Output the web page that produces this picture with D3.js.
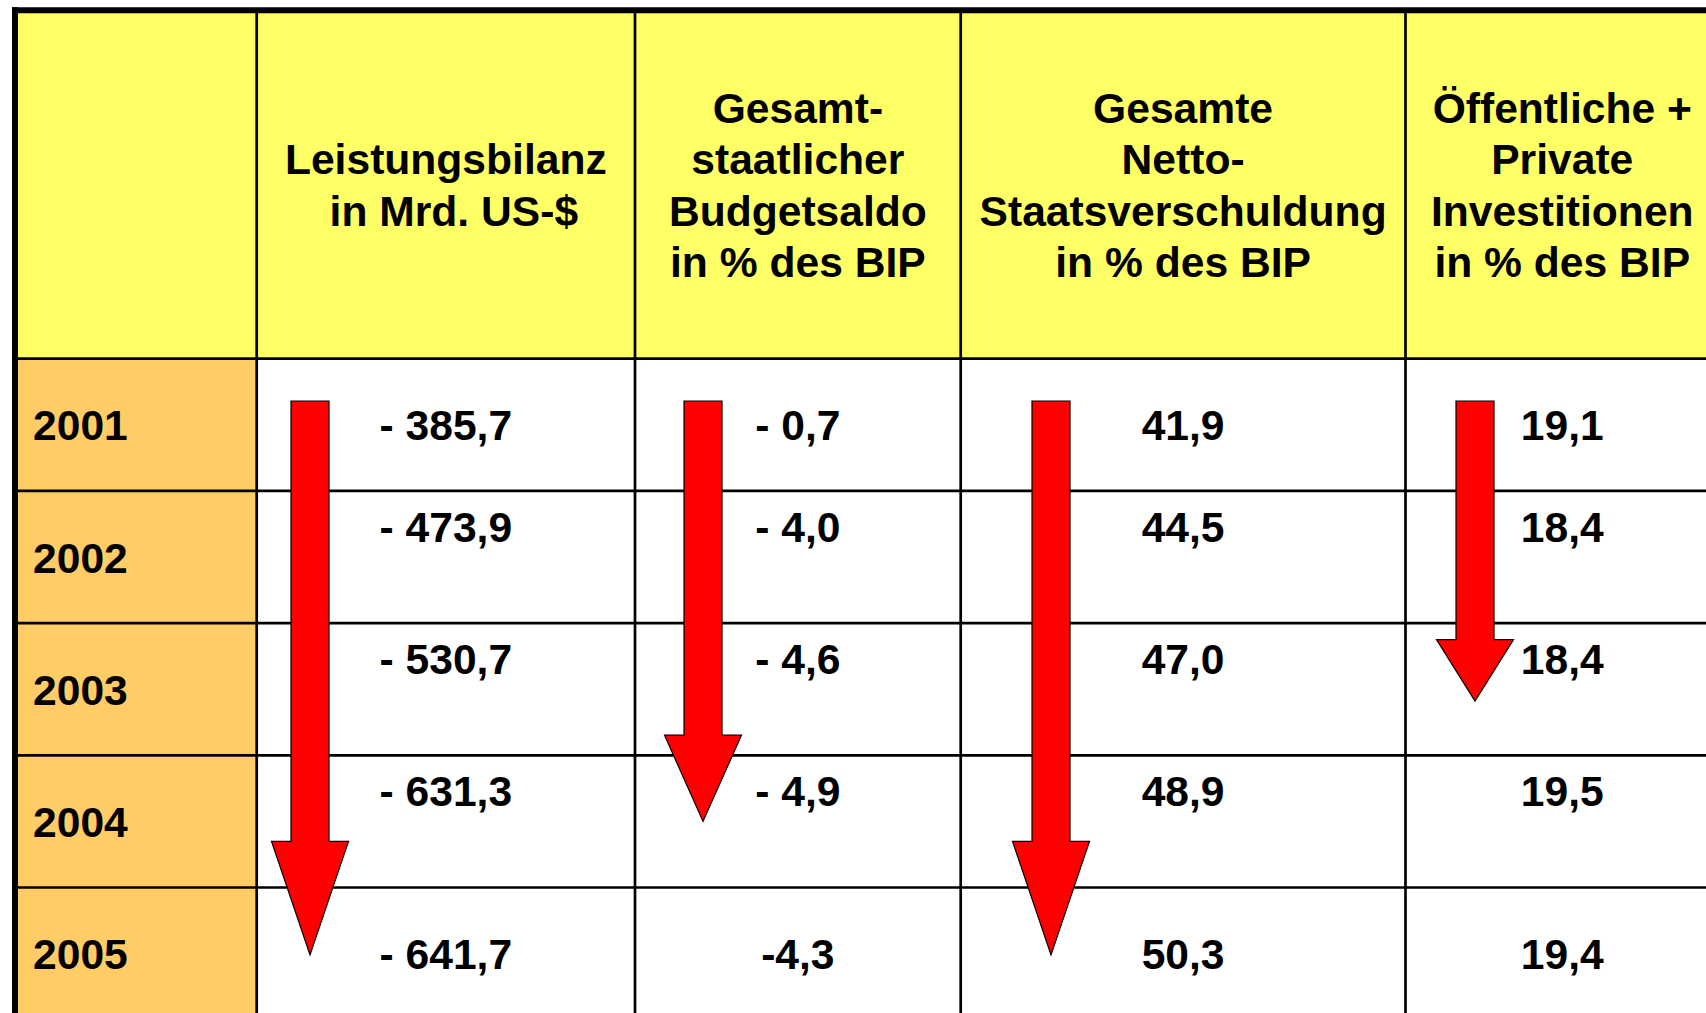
<!DOCTYPE html>
<html>
<head>
<meta charset="utf-8">
<script src="https://cdn.jsdelivr.net/npm/d3@7"></script>
<style>
  html, body { margin: 0; padding: 0; background: #ffffff; overflow: hidden; }
  svg { display: block; }
  text { font-family: "Liberation Sans", Arial, sans-serif; font-weight: bold; fill: #000; }
</style>
</head>
<body>
<svg id="chart" width="1706" height="1013"></svg>
<script>
// ---------- DATA ----------
const years = ["2001", "2002", "2003", "2004", "2005"];

const headerLeistungsbilanz = ["Leistungsbilanz", "in Mrd. US-$"];
const headerBudgetsaldo = ["Gesamt-", "staatlicher", "Budgetsaldo", "in % des BIP"];
const headerVerschuldung = ["Gesamte", "Netto-", "Staatsverschuldung", "in % des BIP"];
const headerInvestitionen = ["Öffentliche +", "Private", "Investitionen", "in % des BIP"];

const leistungsbilanz = ["- 385,7", "- 473,9", "- 530,7", "- 631,3", "- 641,7"];
const budgetsaldo = ["- 0,7", "- 4,0", "- 4,6", "- 4,9", "-4,3"];
const verschuldung = ["41,9", "44,5", "47,0", "48,9", "50,3"];
const investitionen = ["19,1", "18,4", "18,4", "19,5", "19,4"];

// trend arrows: which data column, start and end (in row units from top of first data row)
const arrowColumn = [1, 2, 3, 4];
const arrowStart = [0.32, 0.32, 0.32, 0.32];
const arrowEnd = [4.51, 3.50, 4.51, 2.59];

// ---------- LAYOUT ----------
const W = 1706, H = 1013;
const colEdges = [15, 256.7, 635, 960.7, 1405.5, 1719];
const tableTop = 10.3;
const headerBottom = 358.7;
const rowH = 132.2;
const fontSize = 42.6;
const lineStep = 51.5;
const capHalf = 15.5;
const arrowOffset = [53.3, 68, 90.3, 69.5]; // shaft centre from column left edge
const shaftW = 38, headW = 77, headRatio = 0.205;

const headers = [[], headerLeistungsbilanz, headerBudgetsaldo, headerVerschuldung, headerInvestitionen];
const columns = [leistungsbilanz, budgetsaldo, verschuldung, investitionen];

const svg = d3.select("#chart");
svg.append("rect").attr("width", W).attr("height", H).attr("fill", "#ffffff");

// scales
const y = d3.scaleLinear().domain([0, years.length]).range([headerBottom, headerBottom + years.length * rowH]);
const xL = i => colEdges[i];
const xC = i => (colEdges[i] + colEdges[i + 1]) / 2;

// backgrounds
svg.append("rect")
  .attr("x", colEdges[0]).attr("y", tableTop)
  .attr("width", colEdges[colEdges.length - 1] - colEdges[0])
  .attr("height", headerBottom - tableTop)
  .attr("fill", "#FFFF66");
svg.selectAll("rect.year").data(years).join("rect")
  .attr("class", "year")
  .attr("x", colEdges[0]).attr("y", (d, i) => y(i))
  .attr("width", colEdges[1] - colEdges[0]).attr("height", rowH)
  .attr("fill", "#FFCC66");

// grid lines
const grid = svg.append("g").attr("stroke", "#000").attr("stroke-width", 2.7);
grid.selectAll("line.h").data(d3.range(years.length)).join("line")
  .attr("x1", colEdges[0]).attr("x2", W)
  .attr("y1", i => y(i)).attr("y2", i => y(i));
grid.selectAll("line.v").data(colEdges.slice(1, -1)).join("line")
  .attr("x1", d => d).attr("x2", d => d)
  .attr("y1", tableTop).attr("y2", H);

// header text
headers.forEach((lines, c) => {
  const mid = (tableTop + headerBottom) / 2;
  const n = lines.length;
  svg.append("g").selectAll("text").data(lines).join("text")
    .attr("x", xC(c))
    .attr("dx", (d, k) => (c === 1 && k === 1) ? 8 : 0)
    .attr("y", (d, k) => mid + (k - (n - 1) / 2) * lineStep + capHalf)
    .attr("text-anchor", "middle")
    .attr("font-size", fontSize)
    .text(d => d);
});

// year labels
svg.append("g").selectAll("text").data(years).join("text")
  .attr("x", 33)
  .attr("y", (d, i) => y(i + 0.5) + capHalf)
  .attr("font-size", fontSize)
  .text(d => d);

// values: first and last row vertically centred, middle rows near top of cell
const valueY = i => (i > 0 && i < years.length - 1) ? y(i) + 51 : y(i + 0.5) + capHalf;
columns.forEach((vals, c) => {
  svg.append("g").selectAll("text").data(vals).join("text")
    .attr("x", xC(c + 1))
    .attr("y", (d, i) => valueY(i))
    .attr("text-anchor", "middle")
    .attr("font-size", fontSize)
    .text(d => d);
});

// arrows
const arrowData = arrowColumn.map((c, i) => ({ c, s: arrowStart[i], e: arrowEnd[i], off: arrowOffset[i] }));
svg.append("g").selectAll("path").data(arrowData).join("path")
  .attr("d", d => {
    const cx = xL(d.c) + d.off;
    const y0 = y(d.s), y1 = y(d.e);
    const hl = (y1 - y0) * headRatio;
    const yh = y1 - hl;
    const p = d3.path();
    p.moveTo(cx - shaftW / 2, y0);
    p.lineTo(cx + shaftW / 2, y0);
    p.lineTo(cx + shaftW / 2, yh);
    p.lineTo(cx + headW / 2, yh);
    p.lineTo(cx, y1);
    p.lineTo(cx - headW / 2, yh);
    p.lineTo(cx - shaftW / 2, yh);
    p.closePath();
    return p.toString();
  })
  .attr("fill", "#FF0000")
  .attr("stroke", "#000")
  .attr("stroke-width", 1.2)
  .attr("stroke-linejoin", "miter");

// outer border (top and left, thick)
svg.append("line").attr("x1", 12).attr("x2", W).attr("y1", tableTop).attr("y2", tableTop)
  .attr("stroke", "#000").attr("stroke-width", 6);
svg.append("line").attr("x1", colEdges[0]).attr("x2", colEdges[0]).attr("y1", 7.3).attr("y2", H)
  .attr("stroke", "#000").attr("stroke-width", 6);
</script>
</body>
</html>
